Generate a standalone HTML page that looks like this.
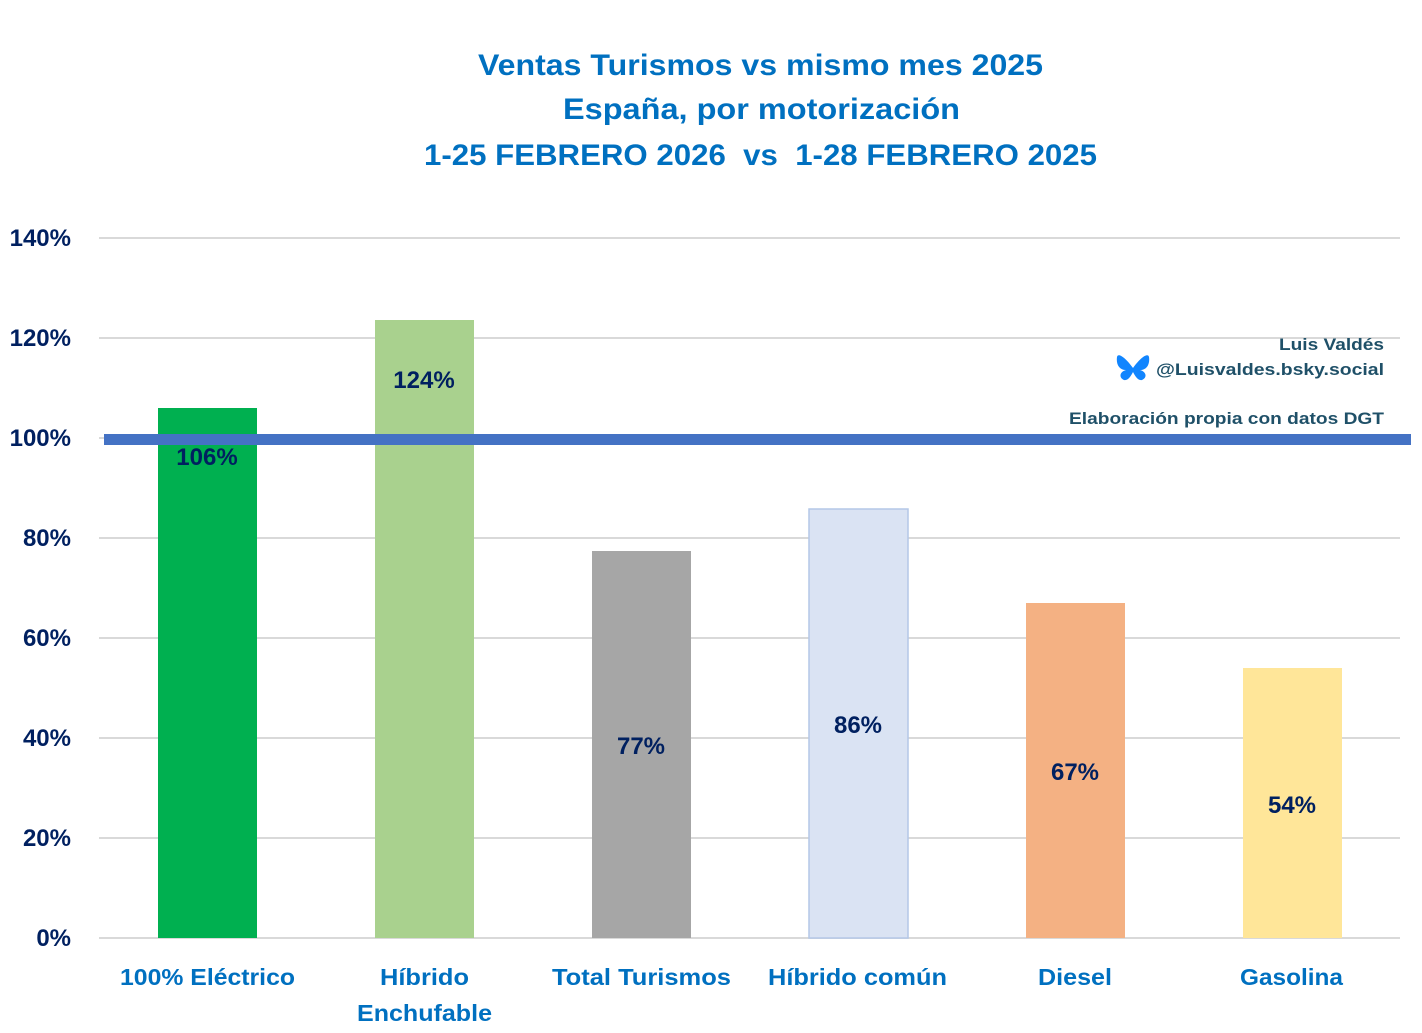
<!DOCTYPE html>
<html><head><meta charset="utf-8"><style>
html,body{margin:0;padding:0;background:#fff;}
svg{display:block;font-family:"Liberation Sans",sans-serif;font-weight:bold;}
</style></head><body>
<svg width="1422" height="1033" viewBox="0 0 1422 1033" xmlns="http://www.w3.org/2000/svg">
<rect width="1422" height="1033" fill="#fff"/>
<g fill="#0070c0" font-size="30">
<text x="478" y="75" textLength="565" lengthAdjust="spacingAndGlyphs">Ventas Turismos vs mismo mes 2025</text>
<text x="563" y="119" textLength="397" lengthAdjust="spacingAndGlyphs">España, por motorización</text>
<text x="424" y="165" textLength="673" lengthAdjust="spacingAndGlyphs" xml:space="preserve">1-25 FEBRERO 2026  vs  1-28 FEBRERO 2025</text>
</g>
<g stroke="#d9d9d9" stroke-width="2">
<line x1="99" x2="1400" y1="238" y2="238"/><line x1="99" x2="1400" y1="338" y2="338"/>
<line x1="99" x2="1400" y1="438" y2="438"/><line x1="99" x2="1400" y1="538" y2="538"/>
<line x1="99" x2="1400" y1="638" y2="638"/><line x1="99" x2="1400" y1="738" y2="738"/>
<line x1="99" x2="1400" y1="838" y2="838"/><line x1="99" x2="1400" y1="938" y2="938"/>
</g>
<g fill="#002060" font-size="24" text-anchor="end">
<text x="71" y="246">140%</text><text x="71" y="346">120%</text><text x="71" y="446">100%</text>
<text x="71" y="546">80%</text><text x="71" y="646">60%</text><text x="71" y="746">40%</text>
<text x="71" y="846">20%</text><text x="71" y="946">0%</text>
</g>
<rect x="158" y="408" width="99" height="530" fill="#00b050"/>
<rect x="375" y="320" width="99" height="618" fill="#a9d18e"/>
<rect x="592" y="551" width="99" height="387" fill="#a6a6a6"/>
<rect x="809" y="509" width="99" height="429" fill="#dae3f3" stroke="#b4c7e7" stroke-width="1.5"/>
<rect x="1026" y="603" width="99" height="335" fill="#f4b183"/>
<rect x="1243" y="668" width="99" height="270" fill="#ffe699"/>
<rect x="104" y="434" width="1307" height="11" fill="#4472c4"/>
<g fill="#002060" font-size="24" text-anchor="middle">
<text x="207" y="465">106%</text><text x="424" y="388">124%</text><text x="641" y="754">77%</text>
<text x="858" y="733">86%</text><text x="1075" y="780">67%</text><text x="1292" y="813">54%</text>
</g>
<g fill="#0070c0" font-size="23">
<text x="120" y="985" textLength="175" lengthAdjust="spacingAndGlyphs">100% Eléctrico</text>
<text x="380" y="985" textLength="89" lengthAdjust="spacingAndGlyphs">Híbrido</text>
<text x="357" y="1021" textLength="135" lengthAdjust="spacingAndGlyphs">Enchufable</text>
<text x="552" y="985" textLength="179" lengthAdjust="spacingAndGlyphs">Total Turismos</text>
<text x="768" y="985" textLength="179" lengthAdjust="spacingAndGlyphs">Híbrido común</text>
<text x="1038" y="985" textLength="74" lengthAdjust="spacingAndGlyphs">Diesel</text>
<text x="1240" y="985" textLength="103" lengthAdjust="spacingAndGlyphs">Gasolina</text>
</g>
<g fill="#1f5068" font-size="17">
<text x="1279" y="350" textLength="105" lengthAdjust="spacingAndGlyphs">Luis Valdés</text>
<text x="1156" y="375" textLength="228" lengthAdjust="spacingAndGlyphs">@Luisvaldes.bsky.social</text>
<text x="1069" y="424" textLength="315" lengthAdjust="spacingAndGlyphs">Elaboración propia con datos DGT</text>
</g>
<g fill="#1185fe">
<path d="M1133 368 C1126 358 1118 352 1117 357 C1116 364 1119 370 1126 370 C1119 372 1119 378 1124 380 C1128 381 1131 376 1133 372 C1135 376 1138 381 1142 380 C1147 378 1147 372 1140 370 C1147 370 1150 364 1149 357 C1148 352 1140 358 1133 368 Z"/>
</g>
</svg>
</body></html>
